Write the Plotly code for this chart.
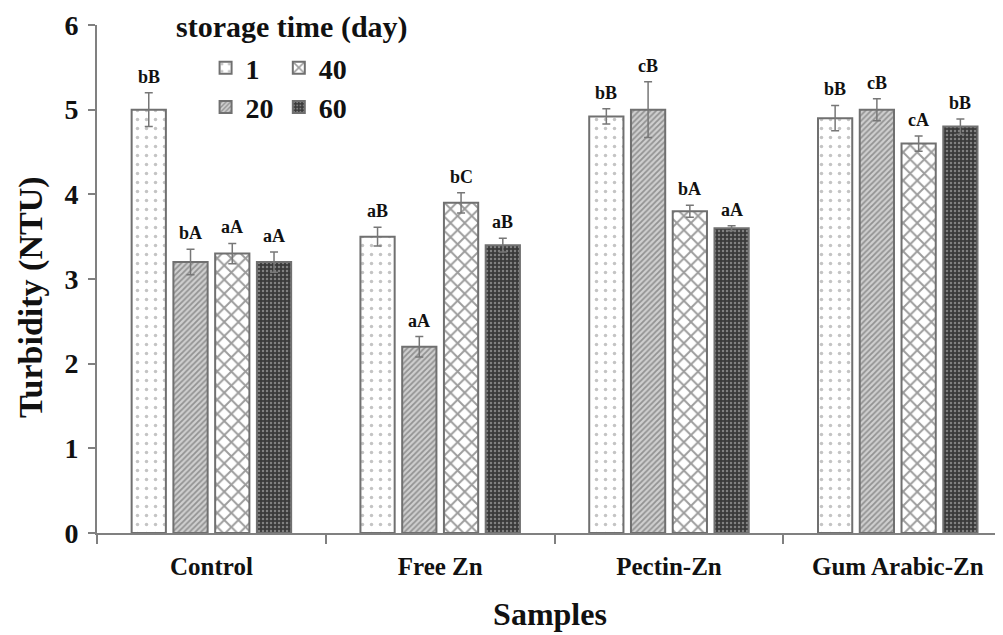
import plotly.graph_objects as go

samples = ["Control", "Free Zn", "Pectin-Zn", "Gum Arabic-Zn"]
days = ["1", "20", "40", "60"]
turbidity = {
    "1":  [5.00, 3.50, 4.92, 4.90],
    "20": [3.20, 2.20, 5.00, 5.00],
    "40": [3.30, 3.90, 3.80, 4.60],
    "60": [3.20, 3.40, 3.60, 4.80],
}
errors = {
    "1":  [0.20, 0.11, 0.09, 0.15],
    "20": [0.15, 0.12, 0.33, 0.13],
    "40": [0.12, 0.12, 0.07, 0.09],
    "60": [0.12, 0.08, 0.03, 0.09],
}
letters = {
    "1":  ["bB", "aB", "bB", "bB"],
    "20": ["bA", "aA", "cB", "cB"],
    "40": ["aA", "bC", "bA", "cA"],
    "60": ["aA", "aB", "aA", "bB"],
}
y_ticks = [0, 1, 2, 3, 4, 5, 6]

FONT = "Liberation Serif, Times New Roman, serif"
INK = "#111111"

patterns = {
    "1":  dict(shape=".", bgcolor="white", fgcolor="#8a8a8a", size=9, solidity=0.12),
    "20": dict(shape="/", bgcolor="#cfcfcf", fgcolor="#555555", size=4, solidity=0.45),
    "40": dict(shape="x", bgcolor="white", fgcolor="#3a3a3a", size=10, solidity=0.35),
    "60": dict(shape=".", bgcolor="#3a3a3a", fgcolor="#c8c8c8", size=4, solidity=0.3),
}
legend_of = {"1": "legend", "20": "legend", "40": "legend2", "60": "legend2"}

BARGAP = 0.27
BARGROUPGAP = 0.18

# plot area in page pixels (page body adds an 8px offset)
OFF = 8
L, R, T, B = 97, 1003, 25, 533


def bold(size):
    return dict(family=FONT, size=size, color=INK, weight="bold")


def px(xp):
    return (xp - L) / (R - L)


def py(yp):
    return (B - yp) / (B - T)


fig = go.Figure()
for d in days:
    fig.add_trace(go.Bar(
        x=samples, y=turbidity[d], name=d,
        legend=legend_of[d],
        marker=dict(color="white", pattern=patterns[d],
                    line=dict(color="#707070", width=2)),
        error_y=dict(type="data", array=errors[d], visible=True,
                     color="#777777", thickness=1.5, width=4),
    ))

# letter annotations above the error bars
n = len(days)
slot = (1 - BARGAP) / n
for i, d in enumerate(days):
    for j, s in enumerate(samples):
        fig.add_annotation(
            x=j + (i - (n - 1) / 2) * slot, y=turbidity[d][j] + errors[d][j],
            xref="x", yref="y", text=letters[d][j],
            showarrow=False, yanchor="bottom", yshift=4,
            font=bold(18),
        )

fig.add_annotation(
    x=px(292), y=py(27), xref="paper", yref="paper",
    text="storage time (day)", showarrow=False,
    xanchor="center", yanchor="middle",
    font=bold(30),
)
fig.add_annotation(
    x=px(31), y=py(297), xref="paper", yref="paper",
    text="Turbidity (NTU)", showarrow=False, textangle=-90,
    xanchor="center", yanchor="middle",
    font=bold(34),
)

legend_common = dict(
    xref="container", yref="container", xanchor="left", yanchor="top",
    orientation="v", bgcolor="rgba(0,0,0,0)", borderwidth=0,
    font=bold(28),
    itemsizing="constant", tracegroupgap=0, traceorder="normal",
)

fig.update_layout(
    width=1003, height=635,
    margin=dict(l=L - OFF, r=1003 - (R - OFF), t=T - OFF, b=635 - (B - OFF),
                autoexpand=False),
    paper_bgcolor="white", plot_bgcolor="white",
    barmode="group", bargap=BARGAP, bargroupgap=BARGROUPGAP,
    showlegend=True,
    legend=dict(x=0.197, y=0.945, **legend_common),
    legend2=dict(x=0.270, y=0.945, **legend_common),
    font=dict(family=FONT, color=INK),
    xaxis=dict(
        type="category", range=[-0.5, 3.46],
        showline=True, linecolor="#808080", linewidth=2,
        ticks="outside", tickson="boundaries", ticklen=9, tickcolor="#808080",
        tickwidth=1.5, showgrid=False, zeroline=False,
        tickfont=bold(25), tickangle=0, automargin=False,
        ticklabelstandoff=10,
        title=dict(text="Samples", font=bold(32), standoff=24),
    ),
    yaxis=dict(
        range=[0, 6], tickvals=y_ticks,
        showline=True, linecolor="#808080", linewidth=2,
        ticks="outside", ticklen=7, tickcolor="#808080", tickwidth=1.5,
        showgrid=False, zeroline=False, automargin=False,
        tickfont=bold(28), ticklabelstandoff=4,
    ),
)

fig.write_html("out.html")
